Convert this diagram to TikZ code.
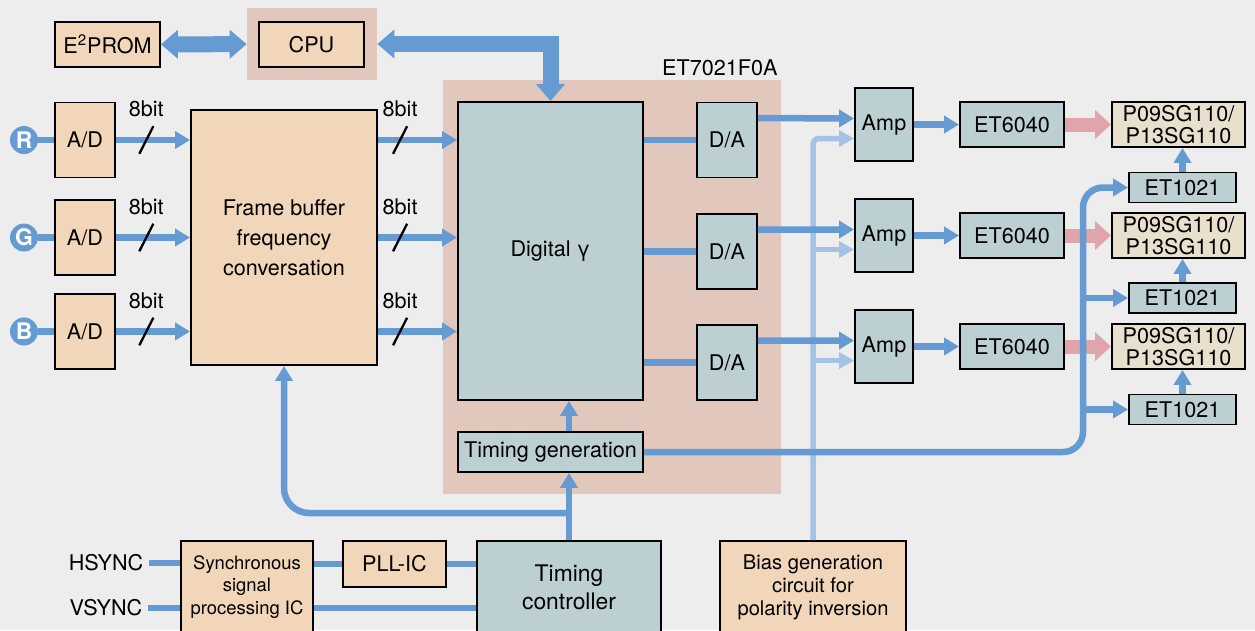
\documentclass[tikz,border=0pt]{standalone}
\usepackage{fontspec}
\setmainfont{TeX Gyre Heros}
\usetikzlibrary{arrows.meta,positioning}
\definecolor{peach}{RGB}{241,214,185}
\definecolor{slate}{RGB}{188,207,210}
\definecolor{chip}{RGB}{226,199,189}
\definecolor{panel}{RGB}{233,223,205}
\definecolor{wireblue}{RGB}{102,154,210}
\definecolor{biasblue}{RGB}{164,193,230}
\definecolor{hotpink}{RGB}{224,165,171}
\definecolor{paper}{RGB}{237,237,237}

\begin{document}
\begin{tikzpicture}[x=0.02cm, y=-0.02cm, every node/.style={font=\fontsize{12.3}{14}\selectfont}]
\tikzstyle{b}=[draw, line width=1.1pt, align=center, inner sep=1pt]
\tikzstyle{pb}=[b, fill=peach]
\tikzstyle{sb}=[b, fill=slate]
\tikzstyle{wire}=[wireblue, line width=0.13cm]
\tikzstyle{arr}=[wire, -{Triangle[length=0.3cm, width=0.34cm]}]
\tikzstyle{bias}=[biasblue, line width=0.11cm]
\tikzstyle{biasarr}=[bias, -{Triangle[length=0.3cm, width=0.32cm]}]
\tikzstyle{fat}=[wireblue, line width=0.32cm, {Triangle[length=0.34cm, width=0.56cm]}-{Triangle[length=0.34cm, width=0.56cm]}]
\tikzstyle{pinkfat}=[hotpink, line width=0.28cm, -{Triangle[length=0.32cm, width=0.56cm]}]
\tikzstyle{sig}=[circle, fill=wireblue, text=white, font=\fontsize{13}{14}\selectfont\bfseries, minimum size=0.56cm, inner sep=0]
\tikzstyle{slash}=[fill=black, inner sep=0, minimum width=1.3pt, minimum height=0.62cm, rotate=-27]
\tikzstyle{bits}=[yshift=0.62cm, text=black]

\useasboundingbox (0,0) rectangle (1255,630);
\fill[paper] (0,0) rectangle (1255,630);
\clip (0,0) rectangle (1255,630);

\node[fill=chip, minimum width=2.6cm, minimum height=1.44cm] (cpubg) at (312,44) {};
\node[pb, minimum width=2.1cm, minimum height=0.9cm] (cpu) at (311.5,44.5) {CPU};
\node[pb, minimum width=2.1cm, minimum height=0.9cm] (eprom) at (107.5,44.5) {E\textsuperscript{2}PROM};

\node[fill=chip, minimum width=6.76cm, minimum height=8.28cm] (et7021) at (612,287) {};
\node[anchor=south east, inner sep=2pt] (chipname) at (et7021.north east) {ET7021F0A};
\node[sb, minimum width=3.7cm, minimum height=5.96cm] (digital) at (550.5,251) {Digital γ};
\node[sb, minimum width=1.2cm, minimum height=1.5cm] (da1) at (727,140) {D/A};
\node[sb, minimum width=1.2cm, minimum height=1.5cm] (da2) at (727,251.5) {D/A};
\node[sb, minimum width=1.2cm, minimum height=1.5cm] (da3) at (727,362.5) {D/A};
\node[sb, minimum width=3.7cm, minimum height=0.8cm] (tg) at (550.5,452) {Timing generation};

\node[sig] (sR) at (24,140) {R};
\node[sig] (sG) at (24,237.5) {G};
\node[sig] (sB) at (24,331.5) {B};
\node[pb, minimum width=1.2cm, minimum height=1.5cm] (adR) at (85,140) {A/D};
\node[pb, minimum width=1.2cm, minimum height=1.5cm] (adG) at (85,237.5) {A/D};
\node[pb, minimum width=1.2cm, minimum height=1.5cm] (adB) at (85,331.5) {A/D};
\node[pb, minimum width=3.72cm, minimum height=5.1cm, font=\fontsize{12.3}{17}\selectfont] (fb) at (284,237.5) {Frame buffer\\frequency\\conversation};

\node[sb, minimum width=1.16cm, minimum height=1.46cm] (amp1) at (884,124.5) {Amp};
\node[sb, minimum width=1.16cm, minimum height=1.46cm] (amp2) at (884,235.5) {Amp};
\node[sb, minimum width=1.16cm, minimum height=1.46cm] (amp3) at (884,346.5) {Amp};
\node[sb, minimum width=2.08cm, minimum height=0.9cm] (et6a) at (1012,124.5) {ET6040};
\node[sb, minimum width=2.08cm, minimum height=0.9cm] (et6b) at (1012,235.5) {ET6040};
\node[sb, minimum width=2.08cm, minimum height=0.9cm] (et6c) at (1012,346.5) {ET6040};
\node[b, fill=panel, minimum width=2.66cm, minimum height=0.9cm, font=\fontsize{12.3}{12.5}\selectfont] (lcd1) at (1178.5,124.5) {P09SG110/\\P13SG110};
\node[b, fill=panel, minimum width=2.66cm, minimum height=0.9cm, font=\fontsize{12.3}{12.5}\selectfont] (lcd2) at (1178.5,235.5) {P09SG110/\\P13SG110};
\node[b, fill=panel, minimum width=2.66cm, minimum height=0.9cm, font=\fontsize{12.3}{12.5}\selectfont] (lcd3) at (1178.5,346.5) {P09SG110/\\P13SG110};
\node[sb, minimum width=2.14cm, minimum height=0.6cm] (et1a) at (1182.5,187.5) {ET1021};
\node[sb, minimum width=2.14cm, minimum height=0.6cm] (et1b) at (1182.5,298) {ET1021};
\node[sb, minimum width=2.14cm, minimum height=0.6cm] (et1c) at (1182.5,409.5) {ET1021};

\node (hsync) at (106,563) {HSYNC};
\node (vsync) at (106,608) {VSYNC};
\node[pb, minimum width=2.64cm, minimum height=1.84cm, font=\fontsize{10.5}{13}\selectfont] (sync) at (247,587) {Synchronous\\signal\\processing IC};
\node[pb, minimum width=2.06cm, minimum height=0.92cm] (pll) at (394.5,564) {PLL-IC};
\node[sb, minimum width=3.68cm, minimum height=1.84cm, font=\fontsize{13}{16}\selectfont] (tc) at (569,587) {Timing\\controller};
\node[pb, minimum width=3.72cm, minimum height=1.84cm, font=\fontsize{11.5}{13}\selectfont] (bias) at (813,587) {Bias generation\\circuit for\\polarity inversion};

\draw[fat] (eprom) -- (cpubg);
\draw[fat] (cpubg.east) -| (digital.north);

\draw[wire] (sR) -- (adR); \draw[wire] (sG) -- (adG); \draw[wire] (sB) -- (adB);
\draw[arr] (adR) -- (fb.west |- adR) node[slash, pos=0.41] {} node[bits, pos=0.41] {8bit};
\draw[arr] (adG) -- (fb.west |- adG) node[slash, pos=0.41] {} node[bits, pos=0.41] {8bit};
\draw[arr] (adB) -- (fb.west |- adB) node[slash, pos=0.41] {} node[bits, pos=0.41] {8bit};
\draw[arr] (fb.east |- adR) -- (digital.west |- adR) node[slash, pos=0.28] {} node[bits, pos=0.28] {8bit};
\draw[arr] (fb.east |- adG) -- (digital.west |- adG) node[slash, pos=0.28] {} node[bits, pos=0.28] {8bit};
\draw[arr] (fb.east |- adB) -- (digital.west |- adB) node[slash, pos=0.28] {} node[bits, pos=0.28] {8bit};
\draw[wire] (digital.east |- da1) -- (da1);
\draw[wire] (digital.east |- da2) -- (da2);
\draw[wire] (digital.east |- da3) -- (da3);

\coordinate (b1) at ([yshift=-0.28cm]amp1.west);
\coordinate (b2) at ([yshift=-0.28cm]amp2.west);
\coordinate (b3) at ([yshift=-0.28cm]amp3.west);
\draw[biasarr, rounded corners=0.12cm] (bias.north) |- (b1);
\draw[biasarr] (b2 -| bias.north) -- (b2);
\draw[biasarr] (b3 -| bias.north) -- (b3);

\draw[arr] ([yshift=0.44cm]da1.east) -- ([yshift=0.12cm]amp1.west);
\draw[arr] ([yshift=0.44cm]da2.east) -- ([yshift=0.12cm]amp2.west);
\draw[arr] ([yshift=0.44cm]da3.east) -- ([yshift=0.12cm]amp3.west);
\draw[arr] (amp1) -- (et6a); \draw[arr] (amp2) -- (et6b); \draw[arr] (amp3) -- (et6c);
\draw[pinkfat] (et6a) -- (lcd1); \draw[pinkfat] (et6b) -- (lcd2); \draw[pinkfat] (et6c) -- (lcd3);
\draw[arr] (et1a.north) -- (et1a.north |- lcd1.south);
\draw[arr] (et1b.north) -- (et1b.north |- lcd2.south);
\draw[arr] (et1c.north) -- (et1c.north |- lcd3.south);

\coordinate (busx) at (1083,0);
\draw[arr, rounded corners=0.4cm] (tg.east) -| (busx |- et1a) -- (et1a);
\draw[arr] (busx |- et1b) -- (et1b);
\draw[arr] (busx |- et1c) -- (et1c);

\draw[arr] (tc.north |- tg.north) -- (tc.north |- digital.south);
\draw[arr] (tc) -- (tc.north |- tg.south);
\coordinate (split) at (tc.north |- 0,513);
\draw[arr, rounded corners=0.5cm] (split) -| (fb.south);

\draw[wire] (hsync) -- (sync.west |- hsync);
\draw[wire] (vsync) -- (sync.west |- vsync);
\draw[wire] (sync.east |- pll) -- (pll);
\draw[wire] (pll) -- (tc.west |- pll);
\draw[wire] (sync.east |- vsync) -- (tc.west |- vsync);
\end{tikzpicture}
\end{document}
